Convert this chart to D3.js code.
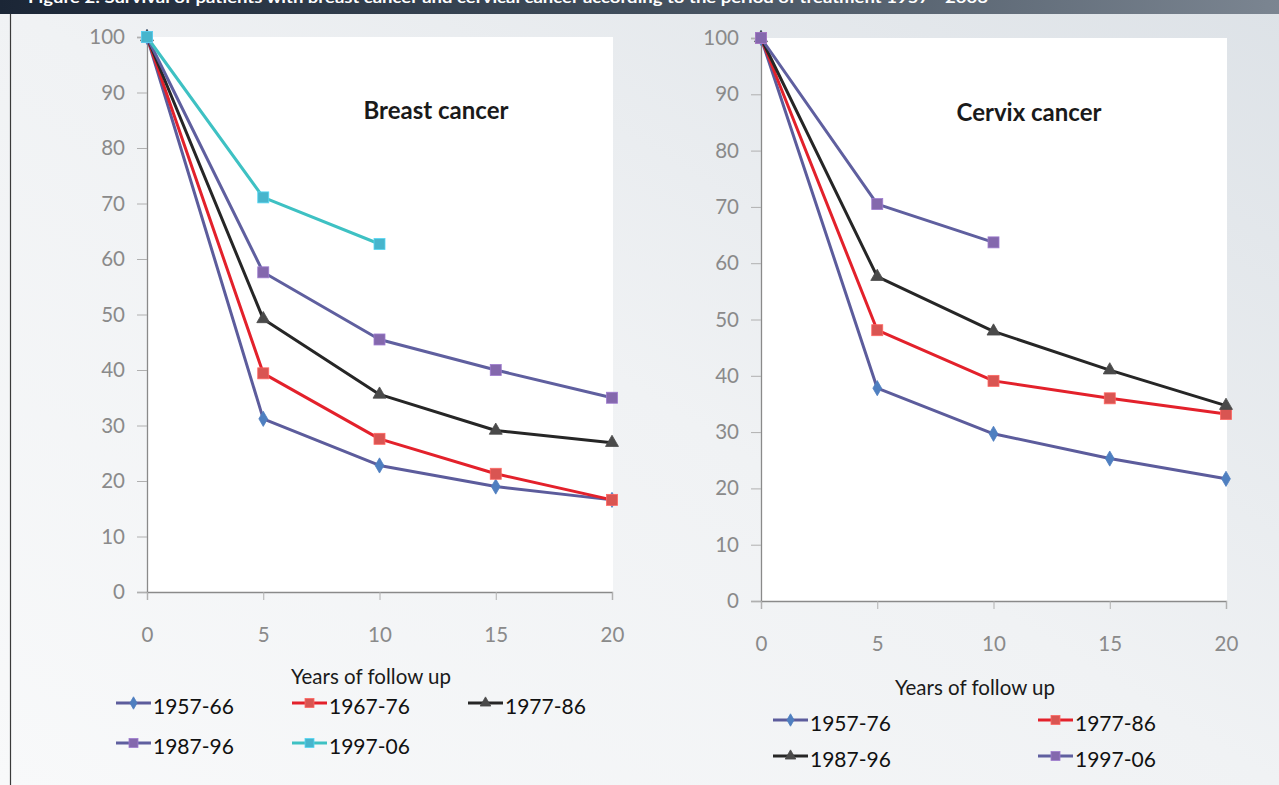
<!DOCTYPE html>
<html><head><meta charset="utf-8">
<script src="https://cdn.jsdelivr.net/npm/d3@7"></script>
<style>html,body{margin:0;padding:0;overflow:hidden;background:#fff}</style>
</head><body>
<svg id="c" width="1279" height="785"></svg>
<script>
// ---- data ----
const years = [0, 5, 10, 15, 20];
const yTicks = [0, 10, 20, 30, 40, 50, 60, 70, 80, 90, 100];
const xTicks = [0, 5, 10, 15, 20];

const breastSeries = ["1957-66", "1967-76", "1977-86", "1987-96", "1997-06"];
const breast1957 = [100, 31.2, 22.8, 19.0, 16.6];
const breast1967 = [100, 39.4, 27.6, 21.3, 16.6];
const breast1977 = [100, 49.2, 35.6, 29.1, 26.9];
const breast1987 = [100, 57.6, 45.5, 40.0, 35.0];
const breast1997 = [100, 71.1, 62.7];

const cervixSeries = ["1957-76", "1977-86", "1987-96", "1997-06"];
const cervix1957 = [100, 37.8, 29.7, 25.3, 21.7];
const cervix1977 = [100, 48.1, 39.1, 36.0, 33.2];
const cervix1987 = [100, 57.6, 47.9, 41.0, 34.7];
const cervix1997 = [100, 70.5, 63.7];

const titleText = "Figure 2: Survival of patients with breast cancer and cervical cancer according to the period of treatment 1957 - 2006";

// ---- styles ----
const S = {
  blue:   {line: "#5c5c9c", fill: "#4f7fc0", marker: "diamond"},
  red:    {line: "#e3212b", fill: "#d95552", marker: "square"},
  black:  {line: "#262626", fill: "#4a4a4a", marker: "triangle"},
  purple: {line: "#5f5f9f", fill: "#8468ad", marker: "square"},
  cyan:   {line: "#3ec1c3", fill: "#47b5cc", marker: "square"}
};

const svg = d3.select("#c");
const defs = svg.append("defs");
const bg = defs.append("linearGradient").attr("id","bg").attr("x1","0").attr("y1","1").attr("x2","1").attr("y2","0");
bg.append("stop").attr("offset","0").attr("stop-color","#f8f9fa");
bg.append("stop").attr("offset","0.5").attr("stop-color","#f0f2f4");
bg.append("stop").attr("offset","1").attr("stop-color","#dde2e7");
const hg = defs.append("linearGradient").attr("id","hg").attr("x1","0").attr("y1","0").attr("x2","1").attr("y2","0");
hg.append("stop").attr("offset","0").attr("stop-color","#1b2636");
hg.append("stop").attr("offset","0.5").attr("stop-color","#414e5c");
hg.append("stop").attr("offset","1").attr("stop-color","#7b8591");

svg.append("rect").attr("x",0).attr("y",0).attr("width",1279).attr("height",785).attr("fill","url(#bg)");
svg.append("rect").attr("x",0).attr("y",0).attr("width",1279).attr("height",14).attr("fill","url(#hg)");
svg.append("text").attr("x",28).attr("y",3).attr("fill","#fff")
  .attr("font-family","Lato, sans-serif").attr("font-weight","bold").attr("font-size",15)
  .attr("textLength",960).attr("lengthAdjust","spacingAndGlyphs").text(titleText);
svg.append("line").attr("x1",10.5).attr("x2",10.5).attr("y1",14).attr("y2",785).attr("stroke","#3a3a3a").attr("stroke-width",1.2);

function marker(g, type, st, x, y, size) {
  if (type === "diamond") {
    g.append("path").attr("d", d3.symbol(d3.symbolDiamond, size*size*0.55)()).attr("transform",`translate(${x},${y})`)
      .attr("fill", st.fill).attr("stroke", st.fill).attr("stroke-width",0.8);
  } else if (type === "triangle") {
    g.append("path").attr("d", d3.symbol(d3.symbolTriangle, size*size*0.6)()).attr("transform",`translate(${x},${y})`)
      .attr("fill", st.fill).attr("stroke", st.fill).attr("stroke-width",0.8);
  } else {
    g.append("rect").attr("x", x-size/2).attr("y", y-size/2).attr("width", size).attr("height", size)
      .attr("fill", st.fill).attr("stroke", d3.color(st.fill).brighter(0.5)).attr("stroke-width",0.8);
  }
}

function panel(opt) {
  const x = d3.scaleLinear().domain([0,20]).range([opt.x0, opt.x1]);
  const y = d3.scaleLinear().domain([0,100]).range([opt.y0, opt.y1]);
  const g = svg.append("g");
  g.append("rect").attr("x", opt.x0).attr("y", opt.y1).attr("width", opt.x1-opt.x0+1).attr("height", opt.y0-opt.y1).attr("fill","#fff");

  const ya = g.append("g").attr("transform",`translate(${opt.x0},0)`)
    .call(d3.axisLeft(y).tickValues(yTicks).tickSize(10).tickPadding(12));
  const xa = g.append("g").attr("transform",`translate(0,${opt.y0})`)
    .call(d3.axisBottom(x).tickValues(xTicks).tickSize(8).tickPadding(27));
  [ya, xa].forEach(a => {
    a.select(".domain").attr("stroke","#8a8a8a").attr("stroke-width",1.3);
    a.selectAll(".tick line").attr("stroke","#b0b0b0");
    a.selectAll("text").attr("fill","#8a8a8a").attr("font-family","Lato, sans-serif").attr("font-size",20.5);
  });

  opt.series.forEach(s => {
    const pts = s.values.map((v,i) => [x(years[i]), y(v)]);
    g.append("path").attr("d", d3.line()(pts)).attr("fill","none").attr("stroke", s.st.line).attr("stroke-width",3).attr("stroke-linejoin","round");
  });
  opt.series.forEach(s => {
    s.values.forEach((v,i) => marker(g, s.st.marker, s.st, x(years[i]), y(v), 11));
  });

  g.append("text").attr("x", opt.titleX).attr("y", opt.titleY).attr("text-anchor","middle")
    .attr("font-family","Lato, sans-serif").attr("font-weight","bold").attr("font-size",24).attr("fill","#1a1a1a").text(opt.title);
  g.append("text").attr("x", opt.axX).attr("y", opt.axY).attr("text-anchor","middle")
    .attr("font-family","Lato, sans-serif").attr("font-size",20.5).attr("fill","#1a1a1a").text("Years of follow up");

  opt.series.forEach((s, i) => {
    const p = opt.legendPos[i];
    g.append("line").attr("x1", p[0]).attr("x2", p[0]+35).attr("y1", p[1]).attr("y2", p[1]).attr("stroke", s.st.line).attr("stroke-width",3);
    marker(g, s.st.marker, s.st, p[0]+17.5, p[1], 9);
    g.append("text").attr("x", p[0]+37).attr("y", p[1]+11).attr("font-family","Lato, sans-serif").attr("font-size",21).attr("fill","#111").text(s.name);
  });
}

panel({
  x0: 147, x1: 612, y0: 592, y1: 37,
  title: "Breast cancer", titleX: 436, titleY: 119,
  axX: 371, axY: 684,
  series: [
    {name: breastSeries[0], values: breast1957, st: S.blue},
    {name: breastSeries[1], values: breast1967, st: S.red},
    {name: breastSeries[2], values: breast1977, st: S.black},
    {name: breastSeries[3], values: breast1987, st: S.purple},
    {name: breastSeries[4], values: breast1997, st: S.cyan}
  ],
  legendPos: [[116,703],[292,703],[468,703],[116,743],[292,743]]
});

panel({
  x0: 761, x1: 1226, y0: 601, y1: 38,
  title: "Cervix cancer", titleX: 1029, titleY: 121,
  axX: 975, axY: 695,
  series: [
    {name: cervixSeries[0], values: cervix1957, st: S.blue},
    {name: cervixSeries[1], values: cervix1977, st: S.red},
    {name: cervixSeries[2], values: cervix1987, st: S.black},
    {name: cervixSeries[3], values: cervix1997, st: S.purple}
  ],
  legendPos: [[773,720],[1038,720],[773,756],[1038,756]]
});
</script>
</body></html>
